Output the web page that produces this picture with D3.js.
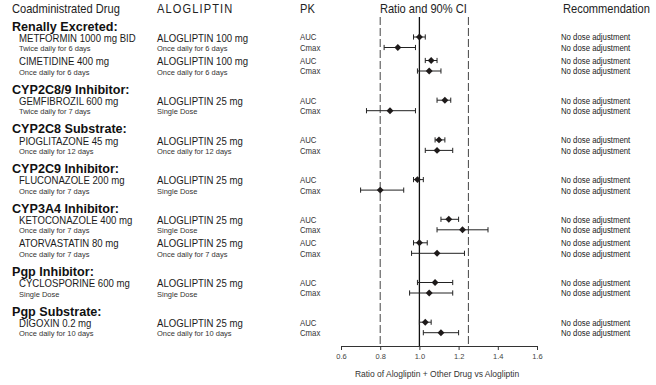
<!DOCTYPE html>
<html>
<head>
<meta charset="utf-8">
<script src="https://cdn.jsdelivr.net/npm/d3@7"></script>
<style>
  body { margin: 0; background: #fff; }
  svg { display: block; font-family: "Liberation Sans", Arial, sans-serif; }
  .hdr { font-size: 11.1px; fill: #222; }
  .grp { font-size: 12.6px; font-weight: bold; fill: #111; }
  .drug { font-size: 9.6px; fill: #1a1a1a; }
  .sub { font-size: 7.5px; fill: #333; }
  .pk { font-size: 7.8px; fill: #333; }
  .rec { font-size: 7.8px; fill: #222; }
  .axis text { font-size: 7.5px; fill: #444; font-family: "Liberation Sans", Arial, sans-serif; }
  .axis path, .axis line { stroke: #333; }
</style>
</head>
<body>
<svg class="chart" width="656" height="385"></svg>
<script>
// ---- data ----
const groups = ["Renally Excreted:", "CYP2C8/9 Inhibitor:", "CYP2C8 Substrate:", "CYP2C9 Inhibitor:",
                "CYP3A4 Inhibitor:", "Pgp Inhibitor:", "Pgp Substrate:"]
const drugGroup = [0, 0, 1, 2, 3, 4, 4, 5, 6]
const drugs = ["METFORMIN 1000 mg BID", "CIMETIDINE 400 mg", "GEMFIBROZIL 600 mg", "PIOGLITAZONE 45 mg",
               "FLUCONAZOLE 200 mg", "KETOCONAZOLE 400 mg", "ATORVASTATIN 80 mg", "CYCLOSPORINE 600 mg", "DIGOXIN 0.2 mg"]
const drugRegimens = ["Twice daily for 6 days", "Once daily for 6 days", "Twice daily for 7 days", "Once daily for 12 days",
                      "Once daily for 7 days", "Once daily for 7 days", "Once daily for 7 days", "Single Dose", "Once daily for 10 days"]
const alogliptinDoses = ["ALOGLIPTIN 100 mg", "ALOGLIPTIN 100 mg", "ALOGLIPTIN 25 mg", "ALOGLIPTIN 25 mg", "ALOGLIPTIN 25 mg",
                         "ALOGLIPTIN 25 mg", "ALOGLIPTIN 25 mg", "ALOGLIPTIN 25 mg", "ALOGLIPTIN 25 mg"]
const alogliptinRegimens = ["Once daily for 6 days", "Once daily for 6 days", "Single Dose", "Once daily for 12 days",
                            "Single Dose", "Single Dose", "Once daily for 7 days", "Single Dose", "Once daily for 10 days"]
const pkParams = ["AUC", "Cmax"]

const aucRatio  = [1.00, 1.06, 1.13, 1.10, 0.99, 1.15, 1.00, 1.08, 1.03]
const aucLow    = [0.97, 1.03, 1.09, 1.08, 0.97, 1.11, 0.97, 0.99, 1.00]
const aucHigh   = [1.03, 1.09, 1.16, 1.13, 1.02, 1.20, 1.04, 1.17, 1.06]
const cmaxRatio = [0.89, 1.05, 0.85, 1.09, 0.80, 1.22, 1.09, 1.05, 1.11]
const cmaxLow   = [0.82, 0.99, 0.73, 1.03, 0.70, 1.09, 0.96, 0.95, 1.02]
const cmaxHigh  = [0.98, 1.11, 0.98, 1.17, 0.92, 1.35, 1.23, 1.17, 1.20]

const recAuc  = ["No dose adjustment", "No dose adjustment", "No dose adjustment", "No dose adjustment", "No dose adjustment",
                 "No dose adjustment", "No dose adjustment", "No dose adjustment", "No dose adjustment"]
const recCmax = ["No dose adjustment", "No dose adjustment", "No dose adjustment", "No dose adjustment", "No dose adjustment",
                 "No dose adjustment", "No dose adjustment", "No dose adjustment", "No dose adjustment"]

const xTicks = [0.6, 0.8, 1.0, 1.2, 1.4, 1.6]
const noEffect = 1.0
const boundLines = [0.8, 1.25]

// ---- layout ----
const svg = d3.select(".chart")
const x = d3.scaleLinear().domain([0.6, 1.6]).range([341, 537])
const axisY = 346
const plotTop = 17

// row positions: smaller step inside a group, bigger step when a new group label comes in
var rowY = []
var yy = 37
drugs.forEach(function (d, i) {
    if (i > 0) yy += (drugGroup[i] == drugGroup[i - 1]) ? 23.5 : 39.7
    rowY.push(yy)
})
const cmaxOff = 10.5

// text helper, the source text is a bit taller than wide
var txt = function (str, cls, tx, ty, sy, anchor) {
    return svg.append("text")
        .attr("class", cls)
        .attr("transform", "translate(" + tx + "," + ty + ") scale(1," + sy + ")")
        .style("text-anchor", anchor || "start")
        .text(str)
}

// headers
txt("Coadministrated Drug", "hdr", 12, 13, 1.12)
txt("ALOGLIPTIN", "hdr", 157, 13, 1.12).style("letter-spacing", "1.1px")
txt("PK", "hdr", 300, 13, 1.12)
txt("Ratio and 90% CI", "hdr", x(1.02), 13, 1.12, "middle")
txt("Recommendation", "hdr", 563, 13, 1.12)

// group labels
groups.forEach(function (g, gi) {
    let first = drugGroup.indexOf(gi)
    txt(g, "grp", 12, rowY[first] - 6.5, 1)
})

// row text
drugs.forEach(function (d, i) {
    let y = rowY[i]
    txt(d, "drug", 19, y + 4.6, 1.15)
    txt(drugRegimens[i], "sub", 19, y + 14, 1.08)
    txt(alogliptinDoses[i], "drug", 157, y + 4.6, 1.15)
    txt(alogliptinRegimens[i], "sub", 157, y + 14, 1.08)
    txt(pkParams[0], "pk", 300, y + 3.4, 1.05)
    txt(pkParams[1], "pk", 300, y + cmaxOff + 3.4, 1.05)
    txt(recAuc[i], "rec", 561, y + 3.4, 1.05)
    txt(recCmax[i], "rec", 561, y + cmaxOff + 3.4, 1.05)
})

// reference lines
svg.selectAll(".bound")
    .data(boundLines)
    .enter().append("line")
    .attr("x1", d => x(d)).attr("x2", d => x(d))
    .attr("y1", plotTop).attr("y2", axisY)
    .style("stroke", "#444")
    .style("stroke-width", 1)
    .style("stroke-dasharray", "8,3")

svg.append("line")
    .attr("x1", x(noEffect)).attr("x2", x(noEffect))
    .attr("y1", plotTop).attr("y2", axisY)
    .style("stroke", "#111")
    .style("stroke-width", 1.3)

// CI bars + markers
var rows = []
drugs.forEach(function (d, i) {
    rows.push({ y: rowY[i], est: aucRatio[i], lo: aucLow[i], hi: aucHigh[i] })
    rows.push({ y: rowY[i] + cmaxOff, est: cmaxRatio[i], lo: cmaxLow[i], hi: cmaxHigh[i] })
})

const ci = svg.append("g").classed("ci", true)
const capH = 2.6
rows.forEach(function (r) {
    let g = ci.append("g").style("stroke", "#222").style("stroke-width", 1)
    g.append("line").attr("x1", x(r.lo)).attr("x2", x(r.hi)).attr("y1", r.y).attr("y2", r.y)
    g.append("line").attr("x1", x(r.lo)).attr("x2", x(r.lo)).attr("y1", r.y - capH).attr("y2", r.y + capH)
    g.append("line").attr("x1", x(r.hi)).attr("x2", x(r.hi)).attr("y1", r.y - capH).attr("y2", r.y + capH)
})

const diamond = d3.symbol().type(d3.symbolSquare).size(24)
ci.selectAll(".mark")
    .data(rows)
    .enter().append("path")
    .attr("d", diamond)
    .attr("transform", d => "translate(" + x(d.est) + "," + d.y + ") rotate(45)")
    .style("fill", "#1e1a1a")

// x axis
svg.append("g")
    .attr("class", "axis")
    .attr("transform", "translate(0," + axisY + ")")
    .call(d3.axisBottom(x).tickValues(xTicks).tickFormat(d3.format(".1f")).tickSize(4).tickSizeOuter(4).tickPadding(4))

txt("Ratio of Alogliptin + Other Drug vs Alogliptin", "sub", x(1.09), 377, 1.08, "middle")
    .style("font-size", "8.5px")
</script>
</body>
</html>
